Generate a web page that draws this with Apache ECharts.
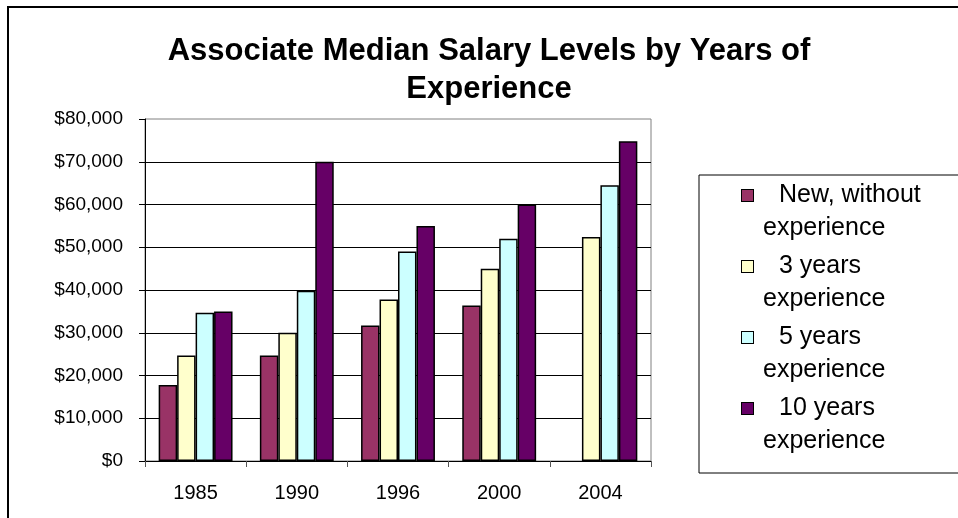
<!DOCTYPE html>
<html>
<head>
<meta charset="utf-8">
<title>Associate Median Salary Levels</title>
<script src="https://cdn.jsdelivr.net/npm/echarts@6/dist/echarts.min.js"></script>
<style>
  html, body { margin: 0; padding: 0; background: #fff; }
  #chart { width: 958px; height: 518px; }
</style>
</head>
<body>
<div id="chart"></div>
<script>
const years = ['1985', '1990', '1996', '2000', '2004'];
const seriesNames = ['New, without experience', '3 years experience', '5 years experience', '10 years experience'];
const newHires = [17800, 24700, 31700, 36400, null];
const threeYears = [24700, 30000, 37800, 45000, 52400];
const fiveYears = [34700, 39800, 49000, 52000, 64500];
const tenYears = [35000, 70000, 55000, 60000, 74800];
const colors = ['#993366', '#FFFFCC', '#CCFFFF', '#660066'];

const seriesData = [newHires, threeYears, fiveYears, tenYears];
const font = 'Liberation Sans, Arial, sans-serif';

const chart = echarts.init(document.getElementById('chart'));

// legend text: marker box + first line, then a second line below
const rich = {
  t1: { fontSize: 25, fontFamily: font, color: '#000', lineHeight: 33, padding: [0, 0, 0, 26] },
  t2: { fontSize: 25, fontFamily: font, color: '#000', lineHeight: 33, padding: [0, 0, 0, 21] }
};
colors.forEach((c, i) => {
  rich['m' + i] = { width: 11, height: 11, lineHeight: 33, backgroundColor: c, borderColor: '#000', borderWidth: 1 };
});

const option = {
  animation: false,
  title: {
    text: 'Associate Median Salary Levels by Years of\nExperience',
    left: 484,
    top: 27,
    textAlign: 'center',
    textStyle: { fontFamily: font, fontWeight: 'bold', fontSize: 31, lineHeight: 38, color: '#000' }
  },
  graphic: [{
    type: 'rect',
    shape: { x: 8, y: 7, width: 1000, height: 600 },
    style: { fill: null, stroke: '#000', lineWidth: 2 },
    silent: true
  }],
  legend: {
    orient: 'vertical',
    left: 699,
    top: 175,
    padding: [4, 120, 15, 38],
    itemGap: 5,
    icon: 'none',
    itemWidth: 0,
    itemHeight: 0,
    borderColor: '#000',
    borderWidth: 1,
    data: seriesNames,
    textStyle: { fontFamily: font, fontSize: 25, lineHeight: 33, color: '#000', rich: rich },
    formatter: name => {
      const i = seriesNames.indexOf(name);
      const k = i === 0 ? name.indexOf(' experience') : name.lastIndexOf(' ');
      return '{m' + i + '|}{t1|' + name.slice(0, k) + '}\n{t2|' + name.slice(k + 1) + '}';
    }
  },
  grid: {
    left: 145,
    right: 307,
    top: 119,
    bottom: 57,
    show: true,
    borderColor: '#808080',
    borderWidth: 1
  },
  xAxis: {
    type: 'category',
    data: years,
    axisLine: { lineStyle: { color: '#000', width: 1 } },
    axisTick: { show: true, length: 6, lineStyle: { color: '#555' } },
    axisLabel: { color: '#000', fontFamily: font, fontSize: 20, margin: 22 }
  },
  yAxis: {
    type: 'value',
    min: 0,
    max: 80000,
    interval: 10000,
    axisLine: { show: true, lineStyle: { color: '#000', width: 1 } },
    axisTick: { show: true, length: 6, lineStyle: { color: '#000' } },
    axisLabel: {
      color: '#000', fontFamily: font, fontSize: 19, margin: 22,
      formatter: v => '$' + v.toLocaleString('en-US')
    },
    splitLine: { show: true, showMaxLine: false, lineStyle: { color: '#000', width: 1 } }
  },
  series: seriesData.map((d, i) => ({
    name: seriesNames[i],
    type: 'bar',
    data: d,
    barGap: '0%',
    barCategoryGap: '27%',
    itemStyle: { color: colors[i], borderColor: '#000', borderWidth: 1.5 }
  }))
};

chart.setOption(option);
</script>
</body>
</html>
